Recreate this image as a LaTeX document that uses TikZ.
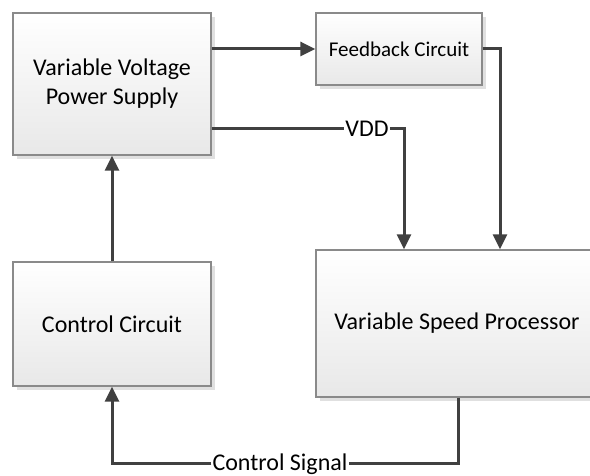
\documentclass[tikz,border=0pt]{standalone}
\usepackage{fontspec}
\setmainfont{Carlito}
\usepackage{tikz}
\usetikzlibrary{arrows.meta,positioning,calc,shadows}

\definecolor{boxline}{HTML}{8A8A8A}
\definecolor{wire}{HTML}{404040}

\begin{document}
\begin{tikzpicture}[x=1pt, y=1pt,
  block/.style={draw=boxline, line width=1.3pt, top color=white, bottom color=black!9,
    drop shadow={shadow xshift=4pt, shadow yshift=-4pt, fill=black!12, opacity=1},
    align=center, font=\fontsize{24}{29}\selectfont, inner sep=0pt},
  flow/.style={draw=wire, line width=3pt, -{Triangle[length=15pt, width=14pt]}},
  wirelbl/.style={fill=white, inner sep=1pt, font=\fontsize{24}{29}\selectfont}]
\clip (0,0) rectangle (590,476);
\useasboundingbox (0,0) rectangle (590,476);
\node[block, minimum width=198pt, minimum height=142pt] (vvps) at (112,392) {Variable Voltage\\Power Supply};
\node[block, minimum width=166pt, minimum height=72pt, font=\fontsize{21}{25}\selectfont] (fb) at (399,427) {Feedback Circuit};
\node[block, minimum width=198pt, minimum height=124pt] (ctrl) at (112,152) {Control Circuit};
\node[block, minimum width=282pt, minimum height=147pt] (vsp) at (457,152.5) {Variable Speed Processor};
% wire labels
\node[wirelbl] (vdd) at (367,347) {VDD};
\node[wirelbl] (sig) at (280,12) {Control Signal};
% connectors
\draw[flow] (vvps.east |- fb.west) -- (fb.west);
\draw[draw=wire, line width=3pt] (vvps.east |- vdd) -- (vdd.west);
\draw[flow] (vdd.east) -| ([xshift=-53pt]vsp.north);
\draw[flow] (fb.east) -| ([xshift=43pt]vsp.north);
\draw[draw=wire, line width=3pt] ([xshift=1pt]vsp.south) |- (sig.east);
\draw[flow] (sig.west) -| (ctrl.south);
\draw[flow] (ctrl.north) -- (vvps.south);
\end{tikzpicture}
\end{document}
